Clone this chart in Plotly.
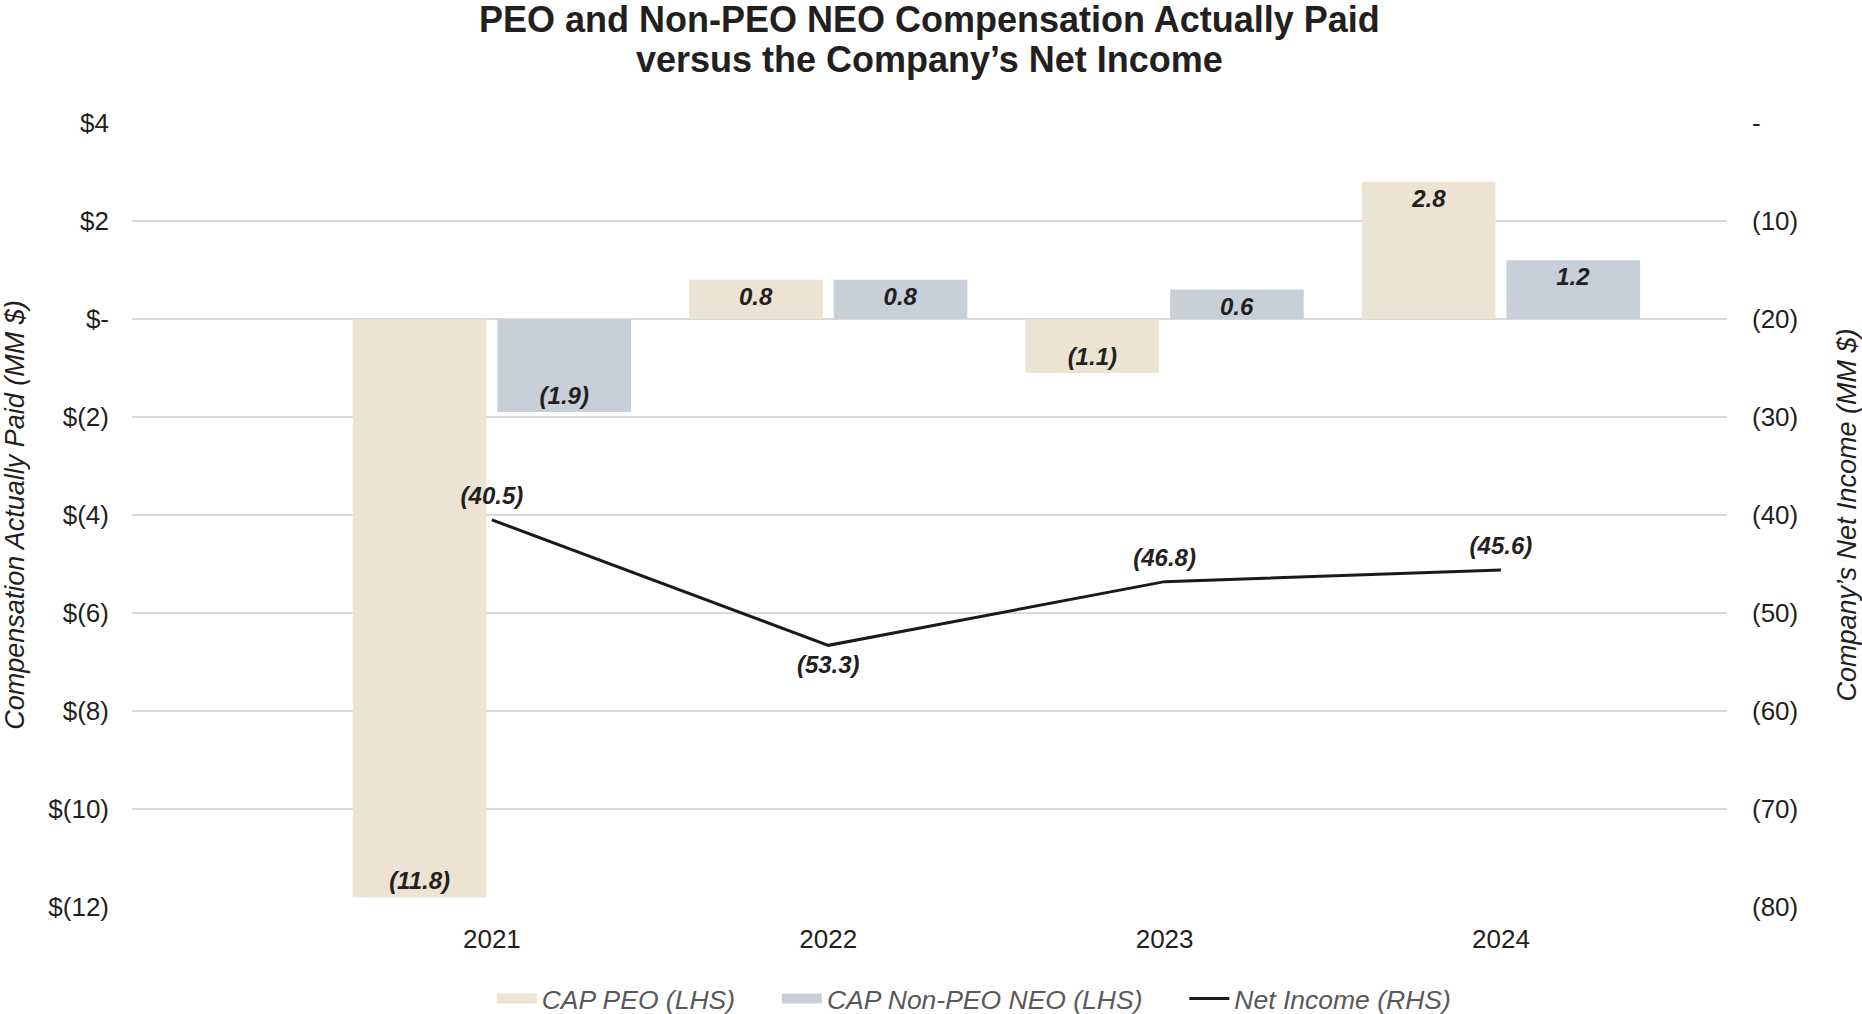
import plotly.graph_objects as go

years = ["2021", "2022", "2023", "2024"]
cap_peo = [-11.8, 0.8, -1.1, 2.8]
cap_non_peo = [-1.9, 0.8, 0.6, 1.2]
net_income = [-40.5, -53.3, -46.8, -45.6]

left_ticks = [4, 2, 0, -2, -4, -6, -8, -10, -12]
left_ticktext = ["$4", "$2", "$-", "$(2)", "$(4)", "$(6)", "$(8)", "$(10)", "$(12)"]
right_ticks = [0, -10, -20, -30, -40, -50, -60, -70, -80]
right_ticktext = ["-", "(10)", "(20)", "(30)", "(40)", "(50)", "(60)", "(70)", "(80)"]

PEO_COLOR = "#ede3d2"
NON_PEO_COLOR = "#c9cfd9"
LINE_COLOR = "#1a1a1a"


def fmt(v):
    return f"({abs(v):.1f})" if v < 0 else f"{v:.1f}"


FONT = "Liberation Sans, Arial, sans-serif"
label_font = dict(family=FONT, size=24, color="#231f20")

fig = go.Figure()
fig.add_trace(go.Bar(
    x=years, y=cap_peo, name="CAP PEO (LHS)", showlegend=False,
    marker=dict(color=PEO_COLOR, line=dict(width=0)),
    text=[f"<b><i>{fmt(v)}</i></b>" for v in cap_peo],
    textposition="inside", insidetextanchor="end",
    textfont=label_font, yaxis="y",
))
fig.add_trace(go.Bar(
    x=years, y=cap_non_peo, name="CAP Non-PEO NEO (LHS)", showlegend=False,
    marker=dict(color=NON_PEO_COLOR, line=dict(width=0)),
    text=[f"<b><i>{fmt(v)}</i></b>" for v in cap_non_peo],
    textposition="inside", insidetextanchor="end",
    textfont=label_font, yaxis="y",
))
fig.add_trace(go.Scatter(
    x=years, y=net_income, name="Net Income (RHS)", showlegend=False,
    mode="lines+markers+text", line=dict(color=LINE_COLOR, width=3),
    marker=dict(size=14, color="rgba(0,0,0,0)"),
    text=[f"<b><i>{fmt(v)}</i></b>" for v in net_income],
    textposition=["top center", "bottom center", "top center", "top center"],
    textfont=label_font, yaxis="y2", cliponaxis=False,
))

# legend entries (wide swatches as in the reference)
SP = "&nbsp;" * 5
for name, color, width in [("CAP PEO (LHS)" + SP, PEO_COLOR, 14),
                           ("CAP Non-PEO NEO (LHS)" + SP, NON_PEO_COLOR, 14),
                           ("Net Income (RHS)", LINE_COLOR, 3)]:
    fig.add_trace(go.Scatter(
        x=[None], y=[None], mode="lines", name=f"<i>{name}</i>",
        line=dict(color=color, width=width), showlegend=True, hoverinfo="skip",
    ))

# title lines
fig.add_annotation(text="<b>PEO and Non-PEO NEO Compensation Actually Paid</b>",
                   xref="paper", yref="paper", x=0.5, y=1.1314,
                   xanchor="center", yanchor="middle", showarrow=False,
                   font=dict(family=FONT, size=36, color="#231f20"))
fig.add_annotation(text="<b>versus the Company’s Net Income</b>",
                   xref="paper", yref="paper", x=0.5, y=1.0816,
                   xanchor="center", yanchor="middle", showarrow=False,
                   font=dict(family=FONT, size=36, color="#231f20"))

fig.update_layout(
    width=1862, height=1014,
    margin=dict(l=132, r=135, t=123, b=107, autoexpand=False),
    paper_bgcolor="white", plot_bgcolor="white",
    font=dict(family=FONT, color="#231f20"),
    barmode="group", bargap=0.14, bargroupgap=0.076,
    uniformtext=dict(minsize=24, mode="show"),
    showlegend=True,
    legend=dict(
        orientation="h", x=0.528, xanchor="center",
        yref="container", y=0.015, yanchor="middle",
        font=dict(family=FONT, size=26.5, color="#595959"),
        itemwidth=40, traceorder="normal",
    ),
    xaxis=dict(
        type="category", range=[-1.07, 3.672], automargin=False,
        showgrid=False, zeroline=False, showline=False, ticks="",
        tickfont=dict(family=FONT, size=26, color="#231f20"),
        ticklabelstandoff=14,
    ),
    yaxis=dict(
        range=[-12, 4], tickvals=left_ticks, ticktext=left_ticktext,
        automargin=False,
        showgrid=True, gridcolor="#d9d9d9", gridwidth=2,
        zeroline=True, zerolinecolor="#d9d9d9", zerolinewidth=2,
        showline=False, ticks="",
        tickfont=dict(family=FONT, size=26, color="#231f20"),
        ticklabelstandoff=22,
        title=dict(text="<i>Compensation Actually Paid (MM $)</i>",
                   font=dict(family=FONT, size=27, color="#231f20"), standoff=15),
    ),
    yaxis2=dict(
        range=[-80, 0], tickvals=right_ticks, ticktext=right_ticktext,
        overlaying="y", side="right", automargin=False,
        showgrid=False, zeroline=False, showline=False, ticks="",
        tickfont=dict(family=FONT, size=26, color="#231f20"),
        ticklabelstandoff=24,
        title=dict(text="<i>Company’s Net Income (MM $)</i>",
                   font=dict(family=FONT, size=27, color="#231f20"), standoff=46),
    ),
)

fig.write_html("out.html", config={"displayModeBar": False},
               post_script="document.body.style.margin='0';document.body.style.overflow='hidden';")
